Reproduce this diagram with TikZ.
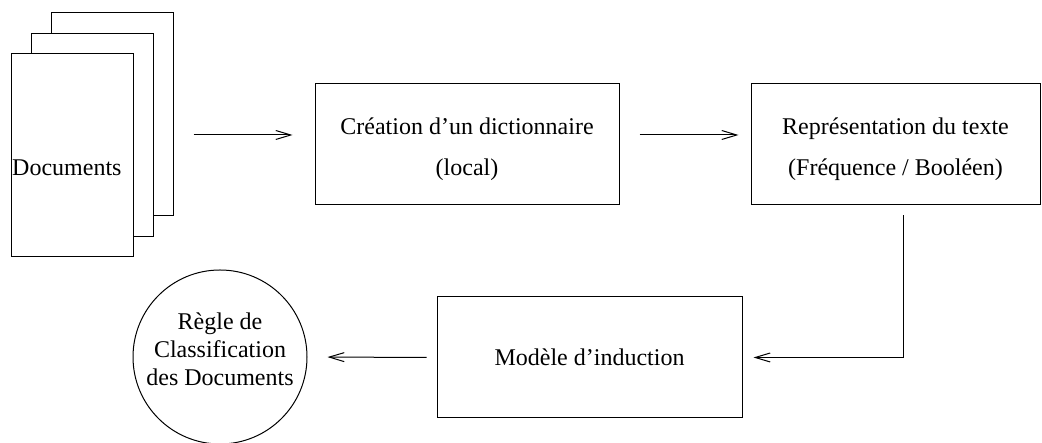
\documentclass[tikz,border=0pt]{standalone}
\usepackage{fontspec}
\setmainfont{Liberation Serif}
\usetikzlibrary{arrows.meta,positioning}

\begin{document}
\begin{tikzpicture}[x=1pt, y=1pt,
    font=\fontsize{24pt}{28pt}\selectfont,
    sheet/.style={draw, fill=white, line width=1pt, minimum width=122pt, minimum height=203pt, inner sep=0pt},
    procbox/.style={draw, line width=1pt, minimum height=121pt, align=center, inner sep=0pt},
    flow/.style={line width=1pt, -{Straight Barb[length=15pt,width=9pt,line width=1pt]}}]
    \useasboundingbox (0,0) rectangle (1042,443);

    % pile de documents
    \node[sheet] (docC) at (112,328.5) {};
    \node[sheet] (docB) at (92,308) {};
    \node[sheet] (docA) at (72,288) {};
    \node[anchor=base west, inner sep=0pt] (docs) at (12,267) {Documents};

    \node[procbox, minimum width=304pt, text height=68pt, text depth=5pt] (dict) at (467,298.5) {Cr\'eation d'un dictionnaire\\[13pt](local)};
    \node[procbox, minimum width=289pt, text height=68pt, text depth=5pt] (repr) at (895.5,298.5) {Repr\'esentation du texte\\[13pt](Fr\'equence / Bool\'een)};
    \node[procbox, minimum width=305pt] (induc) at (589.5,85.5) {Mod\`ele d'induction};
    \node[draw, circle, line width=1pt, minimum size=174pt, inner sep=0pt, align=center, text depth=16pt] (regle) at (220,86) {R\`egle de\\Classification\\des Documents};

    \coordinate (a1) at ([yshift=9.5pt]dict.west);
    \draw[flow, shorten <=20pt, shorten >=22pt] (docC.east |- a1) -- (a1);
    \draw[flow, shorten <=20pt, shorten >=12pt] ([yshift=9.5pt]dict.east) -- ([yshift=9.5pt]repr.west);
    \draw[flow, shorten <=10pt, shorten >=11pt] ([xshift=7.5pt]repr.south) |- (induc.east);
    \draw[flow, shorten <=10pt, shorten >=20pt] (induc.west) -- (regle.east);

\end{tikzpicture}
\end{document}
